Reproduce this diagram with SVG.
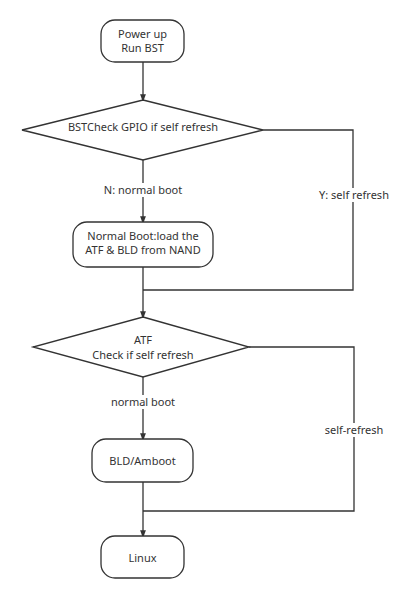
<svg xmlns="http://www.w3.org/2000/svg" width="400" height="599" viewBox="0 0 400 599">
<style>
.n{fill:#fff;stroke:#333;stroke-width:1.3}
.c{fill:none;stroke:#333;stroke-width:1.3}
text{font-family:"Noto Sans","Open Sans","Liberation Sans",sans-serif;font-size:11px;fill:#333;text-anchor:middle}
.bg{fill:#fff}
</style>
<defs>
<marker id="ah" markerWidth="8" markerHeight="11" refX="8" refY="4" orient="auto" markerUnits="userSpaceOnUse" viewBox="0 0 11 8">
<path d="M0,0 L11,4 L0,8 Z" fill="#333"/>
</marker>
</defs>
<rect width="400" height="599" fill="#fff"/>
<g id="connectors">
<path class="c" d="M143,62 V100" marker-end="url(#ah)"/>
<path class="c" d="M143,160 V222" marker-end="url(#ah)"/>
<path class="c" d="M263,130 H353 V290 H143"/>
<path class="c" d="M143,267 V317" marker-end="url(#ah)"/>
<path class="c" d="M143,377 V439" marker-end="url(#ah)"/>
<path class="c" d="M249,347 H354 V511 H143"/>
<path class="c" d="M143,482 V536" marker-end="url(#ah)"/>
<g id="labels">
<rect class="bg" x="98" y="183" width="90" height="14"/>
<text x="143" y="194">N: normal boot</text>
<rect class="bg" x="313" y="188" width="82" height="14"/>
<text x="354" y="199">Y: self refresh</text>
<rect class="bg" x="110" y="395" width="66" height="14"/>
<text x="143" y="406">normal boot</text>
<rect class="bg" x="324" y="423" width="60" height="14"/>
<text x="354" y="434">self-refresh</text>
</g>
</g>
<g id="power-up">
<rect class="n" x="101" y="20" width="83" height="42" rx="14"/>
<text x="142.5" y="38">Power up</text>
<text x="142.5" y="52">Run BST</text>
</g>
<g id="bst-check">
<polygon class="n" points="143,100 263,130 143,160 22,130"/>
<text x="143" y="131">BSTCheck GPIO if self refresh</text>
</g>
<g id="normal-boot">
<rect class="n" x="73" y="222" width="140" height="45" rx="14"/>
<text x="143" y="240">Normal Boot:load the</text>
<text x="143" y="254">ATF &amp; BLD from NAND</text>
</g>
<g id="atf-check">
<polygon class="n" points="143,317 249,347 143,377 33,347"/>
<text x="143" y="344">ATF</text>
<text x="143" y="359">Check if self refresh</text>
</g>
<g id="bld">
<rect class="n" x="92" y="439" width="101" height="43" rx="14"/>
<text x="142.5" y="465">BLD/Amboot</text>
</g>
<g id="linux">
<rect class="n" x="101" y="536" width="83" height="42" rx="14"/>
<text x="142.5" y="562">Linux</text>
</g>
</svg>
